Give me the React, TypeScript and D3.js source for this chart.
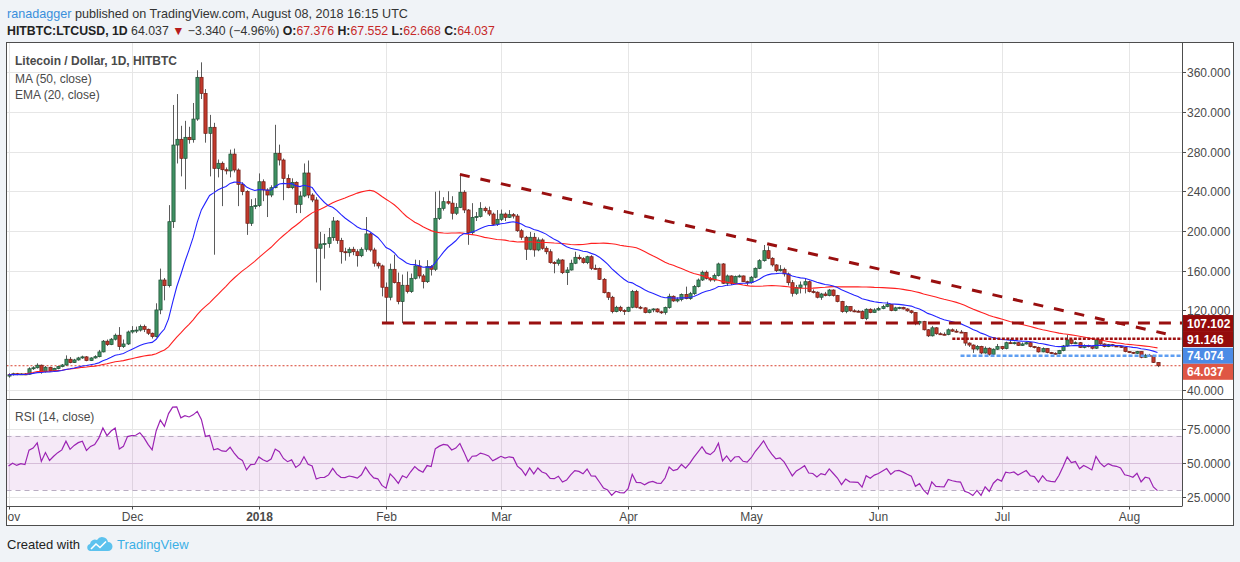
import { useEffect, useRef } from "react"
import * as d3 from "d3"

// HITBTC:LTCUSD daily candles, 2017-11-01 .. 2018-08-08 (open = previous close)
const startDay = "2017-11-01"
const firstOpen = 53.6
const closes = [
  55.0, 56.0, 55.2, 55.8, 55.5, 61.0, 62.0, 64.6, 58.0, 62.5,
  59.0, 61.2, 63.2, 64.8, 70.6, 67.2, 69.9, 71.9, 73.0, 69.2,
  71.9, 73.2, 78.0, 88.8, 85.4, 90.8, 94.8, 83.3, 86.0, 98.1,
  99.5, 100.0, 103.5, 100.8, 96.8, 93.4, 120.3, 150.5, 144.8, 209.3,
  286.6, 292.4, 273.2, 294.4, 292.0, 312.8, 354.9, 338.7, 298.4, 304.5,
  263.1, 268.2, 261.7, 260.5, 277.5, 261.4, 247.0, 239.6, 207.7, 224.5,
  225.5, 249.6, 241.3, 236.2, 243.6, 278.3, 271.5, 253.0, 243.6, 249.0,
  226.8, 235.2, 258.4, 236.2, 231.2, 182.5, 186.8, 187.3, 193.2, 210.0,
  190.5, 179.0, 178.0, 181.5, 179.0, 175.0, 181.5, 197.0, 180.8, 167.4,
  164.7, 143.2, 133.1, 161.3, 147.9, 128.7, 145.2, 138.8, 152.2, 164.7,
  154.6, 148.8, 164.0, 161.3, 212.7, 222.8, 229.5, 228.0, 217.8, 223.8,
  239.0, 221.1, 198.2, 213.7, 214.5, 222.8, 220.4, 217.0, 206.7, 211.7,
  217.0, 213.7, 216.4, 215.0, 200.2, 193.6, 181.5, 193.6, 180.8, 190.9,
  182.5, 179.0, 168.0, 167.3, 170.7, 157.9, 160.6, 167.4, 173.4, 172.0,
  168.0, 174.0, 162.3, 162.0, 151.2, 137.7, 133.1, 118.6, 123.0, 119.6,
  119.0, 123.0, 138.8, 123.0, 122.4, 117.6, 120.3, 121.3, 118.4, 117.7,
  122.7, 134.1, 129.4, 130.7, 136.0, 131.7, 136.7, 143.8, 150.5, 158.3,
  152.2, 150.5, 154.9, 166.7, 147.2, 154.6, 147.2, 153.9, 154.6, 148.8,
  147.8, 153.3, 162.3, 170.0, 180.1, 172.4, 165.7, 159.9, 161.3, 156.6,
  147.8, 137.1, 142.8, 145.5, 148.8, 138.8, 138.2, 133.1, 136.4, 134.8,
  140.4, 134.8, 128.8, 118.7, 123.7, 119.4, 119.0, 118.6, 111.6, 121.0,
  117.7, 120.3, 121.7, 123.7, 125.7, 119.7, 122.4, 122.8, 121.3, 119.4,
  117.7, 107.0, 108.6, 100.3, 94.2, 102.3, 96.3, 95.8, 95.6, 100.3,
  98.9, 98.0, 97.6, 86.9, 84.9, 80.9, 83.6, 76.9, 81.7, 75.6,
  80.7, 83.3, 81.3, 87.3, 86.6, 87.3, 84.6, 86.0, 87.3, 83.3,
  82.6, 78.0, 81.3, 77.3, 76.6, 76.2, 79.3, 84.0, 90.1, 86.6,
  87.3, 82.6, 84.6, 83.3, 81.7, 90.1, 86.0, 83.3, 85.3, 84.0,
  83.6, 82.6, 78.3, 77.6, 76.6, 78.3, 72.6, 74.6, 74.0, 67.376,
  64.037,
]
const highs = [
  56.5, 57.0, 56.8, 56.5, 56.6, 62.5, 63.5, 66.5, 65.2, 63.8,
  63.0, 62.0, 64.0, 65.8, 74.5, 72.8, 71.0, 73.0, 74.2, 73.8,
  72.6, 74.6, 80.0, 90.0, 90.5, 92.0, 96.5, 103.0, 90.5, 99.5,
  104.0, 103.5, 105.5, 105.5, 101.5, 97.5, 127.0, 162.0, 152.5, 226.0,
  327.0, 338.0, 306.0, 311.0, 305.0, 329.0, 362.0, 370.0, 343.0, 317.0,
  309.0, 272.0, 270.0, 264.0, 282.0, 283.0, 263.0, 249.0, 241.0, 232.0,
  233.0, 258.0, 252.0, 243.0, 246.0, 307.0, 287.0, 273.0, 257.0, 253.0,
  250.0, 240.0, 268.0, 271.0, 238.0, 234.0, 199.0, 197.0, 203.0, 214.0,
  211.0, 193.0, 183.0, 183.5, 184.0, 181.5, 183.5, 214.0, 198.0, 183.0,
  169.0, 166.0, 148.0, 167.0, 176.0, 158.0, 156.0, 159.0, 157.0, 171.0,
  170.5, 156.5, 170.5, 165.5, 239.5, 240.5, 234.0, 240.0, 235.0, 228.0,
  257.0, 241.0, 222.0, 228.0, 219.0, 229.0, 224.5, 224.5, 218.5, 221.0,
  221.5, 218.5, 221.0, 218.0, 217.0, 202.0, 195.0, 199.0, 198.0, 193.5,
  192.5, 184.5, 181.5, 169.5, 172.5, 171.5, 163.5, 171.0, 179.0, 176.0,
  173.5, 175.0, 175.5, 166.0, 163.0, 152.5, 138.5, 134.5, 124.5, 124.5,
  121.0, 123.6, 140.5, 140.5, 124.4, 123.0, 121.0, 122.0, 122.0, 119.5,
  123.7, 136.7, 135.0, 133.0, 137.0, 143.8, 138.5, 145.5, 152.0, 160.0,
  160.0, 153.5, 157.0, 168.0, 167.5, 156.0, 155.2, 155.0, 156.0, 155.0,
  149.8, 154.6, 163.2, 171.5, 185.8, 184.5, 173.5, 166.5, 165.5, 163.0,
  158.0, 150.5, 145.5, 149.0, 152.5, 150.0, 141.0, 139.0, 137.5, 138.5,
  141.5, 141.0, 135.5, 129.5, 125.0, 124.0, 121.0, 120.3, 120.0, 122.0,
  122.0, 122.0, 123.5, 125.5, 128.7, 126.0, 123.5, 123.5, 123.5, 122.0,
  120.3, 118.2, 109.4, 109.3, 101.0, 104.2, 103.0, 97.7, 97.7, 101.6,
  101.6, 101.0, 100.0, 98.0, 87.6, 85.6, 84.9, 84.2, 83.5, 82.6,
  81.6, 86.0, 84.0, 88.3, 91.0, 88.3, 88.0, 87.5, 88.3, 88.0,
  84.0, 83.3, 82.6, 81.6, 78.0, 77.6, 80.0, 85.0, 95.1, 91.0,
  88.6, 88.0, 85.6, 85.3, 84.0, 90.8, 90.8, 86.6, 86.0, 86.0,
  84.6, 84.3, 83.0, 78.8, 78.0, 79.0, 78.6, 76.0, 76.0, 75.0,
  67.552,
]
const lows = [
  52.0, 54.2, 54.5, 54.8, 54.6, 55.0, 59.8, 61.2, 56.0, 57.2,
  58.2, 58.5, 60.5, 62.5, 64.0, 66.5, 66.8, 69.2, 71.0, 68.6,
  68.8, 71.2, 72.5, 77.5, 84.0, 84.8, 89.5, 80.0, 82.0, 85.0,
  96.5, 97.0, 98.5, 98.0, 95.0, 91.5, 92.5, 116.0, 130.0, 143.0,
  203.0, 268.0, 255.0, 242.0, 288.0, 289.0, 311.0, 333.0, 289.0, 255.0,
  176.0, 254.0, 225.0, 257.0, 254.0, 259.0, 225.0, 236.0, 196.0, 205.0,
  222.0, 224.0, 230.0, 214.0, 234.0, 243.0, 266.0, 231.0, 243.0, 242.0,
  218.0, 218.0, 234.0, 233.0, 229.0, 148.0, 140.0, 172.0, 183.0, 190.0,
  187.0, 167.0, 170.0, 174.0, 175.5, 164.0, 173.5, 179.0, 179.0, 164.0,
  162.0, 134.0, 107.0, 130.0, 147.0, 126.0, 107.0, 137.0, 137.5, 151.0,
  152.0, 142.0, 147.5, 155.0, 159.5, 211.0, 220.5, 226.5, 211.5, 216.0,
  223.0, 218.0, 186.0, 196.0, 210.0, 213.5, 218.5, 215.0, 205.5, 205.0,
  210.0, 210.0, 213.0, 212.5, 199.0, 191.0, 170.7, 180.5, 174.0, 179.5,
  181.0, 176.5, 167.0, 157.3, 165.0, 156.5, 145.5, 160.0, 166.5, 170.5,
  167.0, 166.5, 160.5, 161.0, 150.5, 137.0, 130.3, 116.9, 117.9, 118.2,
  115.3, 118.2, 122.0, 122.0, 121.0, 116.9, 116.9, 118.0, 117.6, 116.3,
  115.6, 121.6, 128.5, 128.0, 129.0, 131.0, 130.5, 135.5, 143.0, 149.5,
  151.0, 148.8, 148.8, 154.0, 146.5, 144.5, 145.5, 146.5, 153.0, 148.5,
  145.0, 146.8, 152.3, 161.5, 169.0, 171.5, 164.0, 158.5, 159.0, 154.0,
  145.0, 133.8, 135.5, 137.0, 137.0, 138.0, 137.0, 132.0, 130.5, 134.0,
  134.0, 133.8, 128.0, 117.5, 117.0, 118.5, 118.0, 118.0, 111.0, 110.0,
  117.0, 117.5, 119.5, 121.0, 123.0, 119.0, 119.0, 121.0, 120.8, 118.5,
  116.5, 104.9, 105.0, 99.6, 93.0, 93.5, 95.3, 95.2, 94.8, 94.8,
  98.2, 97.5, 97.0, 84.2, 83.0, 77.0, 79.5, 75.6, 76.2, 74.3,
  75.0, 80.0, 80.0, 80.6, 86.0, 85.5, 84.0, 84.0, 85.5, 82.6,
  81.6, 77.3, 77.6, 76.6, 76.0, 75.6, 75.6, 78.6, 83.3, 85.6,
  86.0, 82.0, 81.6, 82.6, 80.6, 81.0, 85.3, 82.6, 82.8, 83.5,
  83.0, 82.0, 77.6, 77.0, 76.0, 76.0, 71.6, 72.0, 73.3, 66.8,
  62.668,
]

// RSI reading at the left edge and a typical daily move, used to seed Wilder's averages
const rsiSeed = 45
const rsiSeedMove = 2.0

const priceTicks = [40, 80, 120, 160, 200, 240, 280, 320, 360]
const rsiTicks = [25, 50, 75]
const rsiBand = [30, 70]
const monthTicks = [
  { date: "2017-11-01", label: "Nov", bold: false },
  { date: "2017-12-01", label: "Dec", bold: false },
  { date: "2018-01-01", label: "2018", bold: true },
  { date: "2018-02-01", label: "Feb", bold: false },
  { date: "2018-03-01", label: "Mar", bold: false },
  { date: "2018-04-01", label: "Apr", bold: false },
  { date: "2018-05-01", label: "May", bold: false },
  { date: "2018-06-01", label: "Jun", bold: false },
  { date: "2018-07-01", label: "Jul", bold: false },
  { date: "2018-08-01", label: "Aug", bold: false },
]

// drawings
const trendLine = [
  { date: "2018-02-19", value: 257 },
  { date: "2018-08-10", value: 96.3 },
]
const levelLines = [
  { from: "2018-01-31", value: 107.102, color: "#990f0f", width: 3, dash: "12 9" },
  { from: "2018-06-19", value: 91.146, color: "#9e1010", width: 2.5, dash: "3 1.5" },
  { from: "2018-06-21", value: 74.074, color: "#5e9ef2", width: 2.5, dash: "4 2" },
]
const lastPrice = 64.037
const priceTags = [
  { value: 107.102, color: "#940b0b" },
  { value: 91.146, color: "#940b0b" },
  { value: 74.074, color: "#4b8be6" },
  { value: 64.037, color: "#df5644" },
]

const FONT = '"Liberation Sans", Arial, Helvetica, sans-serif'
const TEXT = "#4a4a4a"

const parse = (s: string) => new Date(s + "T00:00:00Z")

function sma(values: number[], n: number) {
  return values.map((_, i) => d3.mean(values.slice(Math.max(0, i - n + 1), i + 1)) as number)
}

function ema(values: number[], n: number) {
  const k = 2 / (n + 1)
  let prev = values[0]
  return values.map((v, i) => (prev = i === 0 ? v : v * k + prev * (1 - k)))
}

function rsi(values: number[], n: number) {
  let g = (rsiSeedMove * rsiSeed) / 100
  let l = rsiSeedMove * (1 - rsiSeed / 100)
  return values.map((v, i) => {
    const ch = v - (i === 0 ? firstOpen : values[i - 1])
    g = (g * (n - 1) + Math.max(ch, 0)) / n
    l = (l * (n - 1) + Math.max(-ch, 0)) / n
    return (100 * g) / (g + l)
  })
}

export default function App() {
  const svgRef = useRef<SVGSVGElement>(null)

  useEffect(() => {
    if (!svgRef.current) return
    const svg = d3.select(svgRef.current)
    svg.selectAll("*").remove()

    const W = 1240
    const H = 562
    const L = 6.5
    const R = 1233.5
    const axisX = 1182
    const top = 42.5
    const sep = 399.5
    const rsiBottom = 506.5
    const bottom = 525.5

    const start = parse(startDay)
    const candles = closes.map((c, i) => {
      const o = i === 0 ? firstOpen : closes[i - 1]
      return {
        date: d3.utcDay.offset(start, i),
        o,
        c,
        h: Math.max(highs[i], o, c),
        l: Math.min(lows[i], o, c),
      }
    })
    const ma50 = sma(closes, 50)
    const ema20 = ema(closes, 20)
    const rsi14 = rsi(closes, 14)

    const x = d3
      .scaleUtc()
      .domain([parse("2017-11-01"), parse("2018-08-08")])
      .range([8.5, 1157.5])
    const y = d3.scaleLinear().domain([30, 390]).range([sep, top])
    const yr = d3.scaleLinear().domain([18, 96.7]).range([rsiBottom, sep])

    // page
    svg.append("rect").attr("width", W).attr("height", H).attr("fill", "#f0f3f7")
    svg
      .append("rect")
      .attr("x", L)
      .attr("y", top)
      .attr("width", R - L)
      .attr("height", bottom - top)
      .attr("fill", "#fff")

    const defs = svg.append("defs")
    defs
      .append("clipPath")
      .attr("id", "pricePane")
      .append("rect")
      .attr("x", L)
      .attr("y", top)
      .attr("width", axisX - L)
      .attr("height", sep - top)
    defs
      .append("clipPath")
      .attr("id", "rsiPane")
      .append("rect")
      .attr("x", L)
      .attr("y", sep)
      .attr("width", axisX - L)
      .attr("height", rsiBottom - sep)
    defs
      .append("clipPath")
      .attr("id", "datePane")
      .append("rect")
      .attr("x", L)
      .attr("y", rsiBottom)
      .attr("width", axisX - L)
      .attr("height", bottom - rsiBottom)

    // grid
    const grid = svg.append("g").attr("stroke", "#e6e6e6").attr("stroke-width", 1)
    priceTicks.forEach((t) => {
      const yy = Math.round(y(t)) + 0.5
      grid.append("line").attr("x1", L).attr("x2", axisX).attr("y1", yy).attr("y2", yy)
    })
    rsiTicks.forEach((t) => {
      const yy = Math.round(yr(t)) + 0.5
      grid.append("line").attr("x1", L).attr("x2", axisX).attr("y1", yy).attr("y2", yy)
    })
    monthTicks.forEach((m) => {
      const xx = Math.round(x(parse(m.date))) + 0.5
      grid.append("line").attr("x1", xx).attr("x2", xx).attr("y1", top).attr("y2", rsiBottom)
    })

    // RSI pane
    const rp = svg.append("g").attr("clip-path", "url(#rsiPane)")
    rp.append("rect")
      .attr("x", L)
      .attr("width", axisX - L)
      .attr("y", yr(rsiBand[1]))
      .attr("height", yr(rsiBand[0]) - yr(rsiBand[1]))
      .attr("fill", "#9c27b0")
      .attr("fill-opacity", 0.1)
    rp.append("line")
      .attr("x1", L)
      .attr("x2", axisX)
      .attr("y1", Math.round(yr(50)) + 0.5)
      .attr("y2", Math.round(yr(50)) + 0.5)
      .attr("stroke", "#9c27b0")
      .attr("stroke-opacity", 0.12)
    rsiBand.forEach((b) => {
      const yy = Math.round(yr(b)) + 0.5
      rp.append("line")
        .attr("x1", L)
        .attr("x2", axisX)
        .attr("y1", yy)
        .attr("y2", yy)
        .attr("stroke", "#b9adc2")
        .attr("stroke-dasharray", "5 4")
    })
    const rsiLine = d3
      .line<number>()
      .x((_, i) => x(candles[i].date))
      .y((d) => yr(d))
    rp.append("path")
      .attr("d", rsiLine(rsi14))
      .attr("fill", "none")
      .attr("stroke", "#9b23b3")
      .attr("stroke-width", 1.2)

    // price pane
    const pp = svg.append("g").attr("clip-path", "url(#pricePane)")

    pp.append("line")
      .attr("x1", L)
      .attr("x2", axisX)
      .attr("y1", y(lastPrice))
      .attr("y2", y(lastPrice))
      .attr("stroke", "#d8412e")
      .attr("stroke-dasharray", "2 2")

    const cg = pp.append("g")
    candles.forEach((d) => {
      const cx = Math.round(x(d.date)) + 0.5
      const up = d.c >= d.o
      cg.append("line")
        .attr("x1", cx)
        .attr("x2", cx)
        .attr("y1", y(d.h))
        .attr("y2", y(d.l))
        .attr("stroke", "#5b5b5b")
        .attr("stroke-width", 1)
      const y0 = y(Math.max(d.o, d.c))
      const y1 = y(Math.min(d.o, d.c))
      cg.append("rect")
        .attr("x", cx - 1.6)
        .attr("width", 3.2)
        .attr("y", y0)
        .attr("height", Math.max(1, y1 - y0))
        .attr("fill", up ? "#3f9163" : "#c23a2c")
        .attr("stroke", up ? "#1e4d33" : "#6e1a12")
        .attr("stroke-width", 0.7)
    })

    const series = d3
      .line<number>()
      .x((_, i) => x(candles[i].date))
      .y((d) => y(d))
    pp.append("path")
      .attr("d", series(ma50))
      .attr("fill", "none")
      .attr("stroke", "#ff2020")
      .attr("stroke-width", 1.1)
    pp.append("path")
      .attr("d", series(ema20))
      .attr("fill", "none")
      .attr("stroke", "#2424ff")
      .attr("stroke-width", 1.1)

    levelLines.forEach((lv) => {
      pp.append("line")
        .attr("x1", x(parse(lv.from)))
        .attr("x2", axisX)
        .attr("y1", y(lv.value))
        .attr("y2", y(lv.value))
        .attr("stroke", lv.color)
        .attr("stroke-width", lv.width)
        .attr("stroke-dasharray", lv.dash)
    })
    pp.append("line")
      .attr("x1", x(parse(trendLine[0].date)))
      .attr("y1", y(trendLine[0].value))
      .attr("x2", x(parse(trendLine[1].date)))
      .attr("y2", y(trendLine[1].value))
      .attr("stroke", "#990f0f")
      .attr("stroke-width", 3)
      .attr("stroke-dasharray", "10 11")

    // frame
    const frame = svg.append("g").attr("stroke", "#4d4d4d").attr("fill", "none")
    frame.append("rect").attr("x", L).attr("y", top).attr("width", R - L).attr("height", bottom - top)
    frame.append("line").attr("x1", L).attr("x2", R).attr("y1", sep).attr("y2", sep)
    frame.append("line").attr("x1", L).attr("x2", axisX).attr("y1", rsiBottom).attr("y2", rsiBottom)
    frame.append("line").attr("x1", axisX + 0.5).attr("x2", axisX + 0.5).attr("y1", top).attr("y2", rsiBottom)

    // price tags, pushed apart when they overlap
    const tagH = 16
    let lastY = -Infinity
    const tagYs = priceTags.map((tg) => {
      const cy = Math.max(y(tg.value), lastY + tagH)
      lastY = cy
      return cy
    })

    // price axis (labels hidden behind a tag are left out, as on the reference)
    const ax = svg.append("g").attr("font-family", FONT).attr("font-size", 12).attr("fill", TEXT)
    priceTicks.forEach((t) => {
      const yy = Math.round(y(t)) + 0.5
      ax.append("line").attr("x1", axisX).attr("x2", axisX + 4).attr("y1", yy).attr("y2", yy).attr("stroke", "#4d4d4d")
      if (tagYs.some((ty) => Math.abs(ty - yy) < 12)) return
      ax.append("text").attr("x", 1187).attr("y", yy + 4).text(d3.format(".3f")(t))
    })
    rsiTicks.forEach((t) => {
      const yy = Math.round(yr(t)) + 0.5
      ax.append("line").attr("x1", axisX).attr("x2", axisX + 4).attr("y1", yy).attr("y2", yy).attr("stroke", "#4d4d4d")
      ax.append("text").attr("x", 1187).attr("y", yy + 4).text(d3.format(".4f")(t))
    })

    priceTags.forEach((tg, i) => {
      const cy = tagYs[i]
      ax.append("rect")
        .attr("x", axisX + 1)
        .attr("y", cy - tagH / 2)
        .attr("width", R - axisX - 1.5)
        .attr("height", tagH)
        .attr("fill", tg.color)
      ax.append("text")
        .attr("x", 1187)
        .attr("y", cy + 4.5)
        .attr("fill", "#fff")
        .attr("font-weight", "bold")
        .text(d3.format(".3f")(tg.value))
    })

    // date axis
    const dx = svg
      .append("g")
      .attr("clip-path", "url(#datePane)")
      .attr("font-family", FONT)
      .attr("font-size", 12)
      .attr("fill", TEXT)
      .attr("text-anchor", "middle")
    monthTicks.forEach((m) => {
      const xx = Math.round(x(parse(m.date))) + 0.5
      dx.append("line").attr("x1", xx).attr("x2", xx).attr("y1", rsiBottom).attr("y2", rsiBottom + 3).attr("stroke", "#4d4d4d")
      dx.append("text")
        .attr("x", xx)
        .attr("y", 521)
        .attr("font-weight", m.bold ? "bold" : "normal")
        .text(m.label)
    })

    // legends
    const lg = svg.append("g").attr("font-family", FONT).attr("font-size", 12).attr("fill", TEXT)
    lg.append("text").attr("x", 15).attr("y", 65).attr("font-weight", "bold").text("Litecoin / Dollar, 1D, HITBTC")
    lg.append("text").attr("x", 15).attr("y", 82.5).text("MA (50, close)")
    lg.append("text").attr("x", 15).attr("y", 99).text("EMA (20, close)")
    lg.append("text").attr("x", 15).attr("y", 421).text("RSI (14, close)")

    // header
    const hd = svg.append("g").attr("font-family", FONT).attr("fill", "#333").style("white-space", "pre")
    const h1 = hd.append("text").attr("x", 7).attr("y", 17.5).attr("font-size", 12.6)
    h1.append("tspan").attr("fill", "#3a8fdc").text("ranadagger")
    h1.append("tspan").text(" published on TradingView.com, August 08, 2018 16:15 UTC")
    const h2 = hd.append("text").attr("x", 7).attr("y", 35).attr("font-size", 12.3)
    const parts: [string, string, boolean][] = [
      ["HITBTC:LTCUSD, 1D", "#222", true],
      [" 64.037 ", "#333", false],
      ["\u25BC", "#b71c1c", false],
      [" \u22123.340 (\u22124.96%) ", "#333", false],
      ["O:", "#222", true],
      ["67.376", "#c62828", false],
      [" H:", "#222", true],
      ["67.552", "#c62828", false],
      [" L:", "#222", true],
      ["62.668", "#c62828", false],
      [" C:", "#222", true],
      ["64.037", "#c62828", false],
    ]
    parts.forEach(([t, c, b]) => {
      h2.append("tspan").attr("fill", c).attr("font-weight", b ? "bold" : "normal").text(t)
    })

    // footer
    const ft = svg.append("g").attr("font-family", FONT).attr("font-size", 13)
    ft.append("text").attr("x", 7).attr("y", 549).attr("fill", "#222").text("Created with")
    ft.append("path")
      .attr("d", "M90,551 L108,551 A4.5,4.5 0 0 0 108,542 A6,6 0 0 0 97,540 A5,5 0 0 0 90,544 A3.6,3.6 0 0 0 90,551 Z")
      .attr("fill", "#5cc2ee")
    ft.append("path")
      .attr("d", "M91,549 L96,544 L100,547.5 L106,541.5")
      .attr("fill", "none")
      .attr("stroke", "#fff")
      .attr("stroke-width", 1.6)
    ft.append("text").attr("x", 117).attr("y", 549).attr("fill", "#3bb0e6").text("TradingView")
  }, [])

  return (
    <>
      <style>{`body{margin:0}`}</style>
      <svg ref={svgRef} width={1240} height={562} style={{ display: "block" }} />
    </>
  )
}
